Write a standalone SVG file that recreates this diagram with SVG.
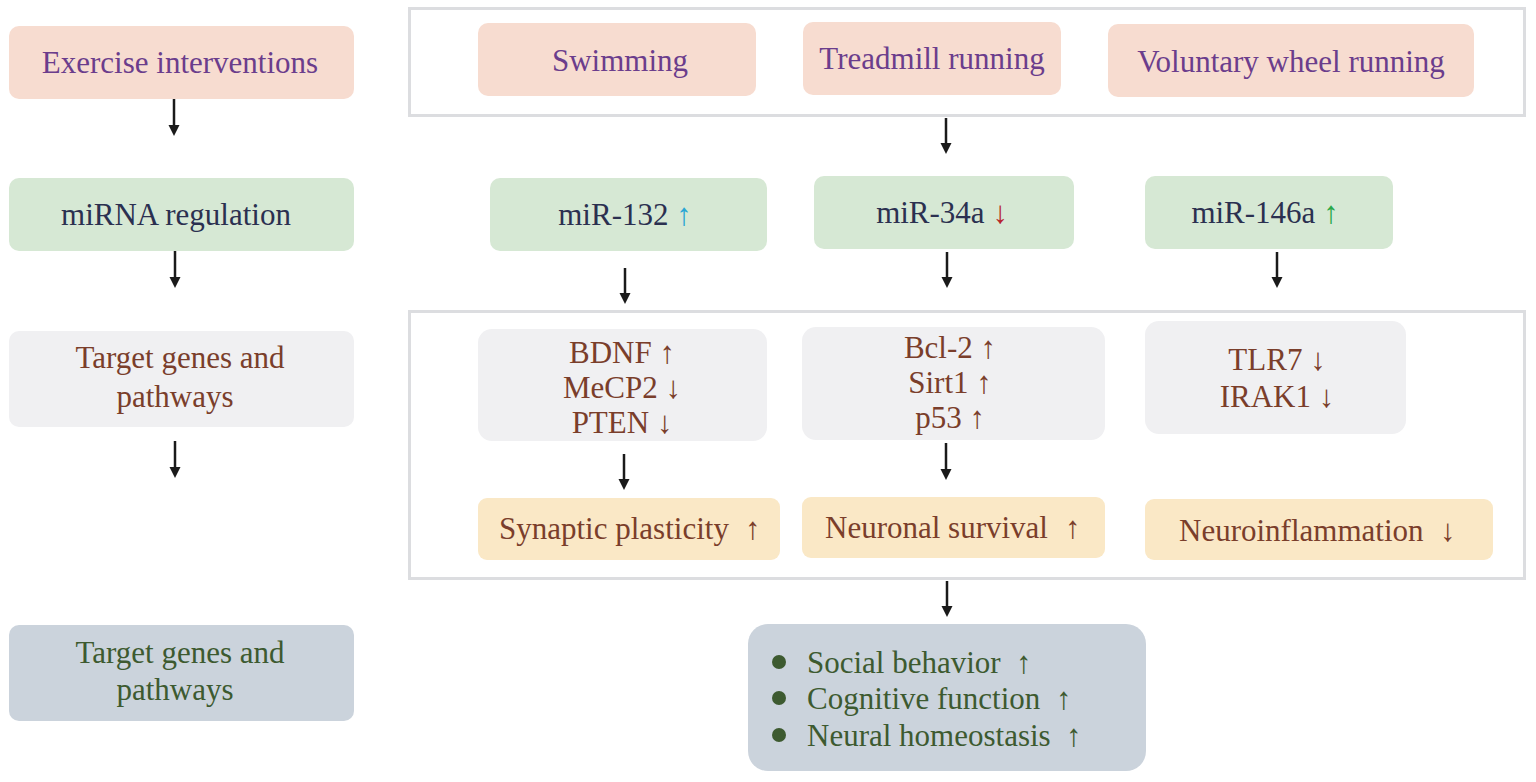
<svg xmlns="http://www.w3.org/2000/svg" width="1536" height="782" viewBox="0 0 1536 782">
<defs>
<style>
text{font-family:"Liberation Serif","Times New Roman",serif;font-size:31px;text-anchor:middle}
.peach{fill:#f7dcd0}
.green{fill:#d6e8d4}
.gray{fill:#f0f0f2}
.yellow{fill:#fae8c6}
.blue{fill:#cbd3dc}
.frame{fill:none;stroke:#dcdde0;stroke-width:3}
.tp{fill:#6b3d8c}
.tn{fill:#2b3050}
.tb{fill:#7a3e2b}
.tg{fill:#3d5a30}
.conn line{stroke:#1a1a1a;stroke-width:2.5}
.conn path{fill:#1a1a1a}
</style>
</defs>
<rect width="1536" height="782" fill="#ffffff"/>
<rect class="frame" x="409.5" y="8.5" width="1115" height="107"/>
<rect class="frame" x="409.5" y="311.5" width="1115" height="267"/>

<g id="exercise-interventions"><rect class="peach" x="9" y="26" width="345" height="73" rx="10"/><text class="tp" x="180" y="73">Exercise interventions</text></g>
<g id="mirna-regulation"><rect class="green" x="9" y="178" width="345" height="73" rx="10"/><text class="tn" x="176" y="225">miRNA regulation</text></g>
<g id="target-genes-left"><rect class="gray" x="9" y="331" width="345" height="96" rx="10"/><text class="tb" x="180" y="368">Target genes and</text><text class="tb" x="175" y="407">pathways</text></g>
<g id="target-genes-bottom"><rect class="blue" x="9" y="625" width="345" height="96" rx="10"/><text class="tg" x="180" y="663">Target genes and</text><text class="tg" x="175" y="700">pathways</text></g>

<g id="swimming"><rect class="peach" x="478" y="23" width="278" height="73" rx="10"/><text class="tp" x="620" y="71">Swimming</text></g>
<g id="treadmill"><rect class="peach" x="803" y="22" width="258" height="73" rx="10"/><text class="tp" x="932" y="69">Treadmill running</text></g>
<g id="voluntary"><rect class="peach" x="1108" y="24" width="366" height="73" rx="10"/><text class="tp" x="1291" y="72">Voluntary wheel running</text></g>

<g id="mir132"><rect class="green" x="490" y="178" width="277" height="73" rx="10"/><text class="tn" x="625" y="225">miR-132 <tspan fill="#2aa6d4">↑</tspan></text></g>
<g id="mir34a"><rect class="green" x="814" y="176" width="260" height="73" rx="10"/><text class="tn" x="942" y="223">miR-34a <tspan fill="#b8262e">↓</tspan></text></g>
<g id="mir146a"><rect class="green" x="1145" y="176" width="248" height="73" rx="10"/><text class="tn" x="1265" y="223">miR-146a <tspan fill="#2aa84a">↑</tspan></text></g>

<g id="genes132"><rect class="gray" x="478" y="329" width="289" height="112" rx="14"/><text class="tb" x="622" y="363">BDNF ↑</text><text class="tb" x="622" y="398">MeCP2 ↓</text><text class="tb" x="622" y="433">PTEN ↓</text></g>
<g id="genes34a"><rect class="gray" x="802" y="327" width="303" height="113" rx="14"/><text class="tb" x="950" y="358">Bcl-2 ↑</text><text class="tb" x="950" y="393">Sirt1 ↑</text><text class="tb" x="950" y="428">p53 ↑</text></g>
<g id="genes146a"><rect class="gray" x="1145" y="321" width="261" height="113" rx="14"/><text class="tb" x="1277" y="370">TLR7 ↓</text><text class="tb" x="1277" y="407">IRAK1 ↓</text></g>

<g id="synaptic"><rect class="yellow" x="478" y="498" width="302" height="62" rx="9"/><text class="tb" style="text-anchor:start" x="499" y="539">Synaptic plasticity<tspan x="745">↑</tspan></text></g>
<g id="neuronal"><rect class="yellow" x="802" y="497" width="303" height="61" rx="9"/><text class="tb" style="text-anchor:start" x="825" y="538">Neuronal survival<tspan x="1065">↑</tspan></text></g>
<g id="neuroinflammation"><rect class="yellow" x="1145" y="499" width="348" height="61" rx="9"/><text class="tb" style="text-anchor:start" x="1179" y="541">Neuroinflammation<tspan x="1440">↓</tspan></text></g>

<g id="outcomes"><rect class="blue" x="748" y="624" width="398" height="147" rx="20"/>
<circle cx="779" cy="662" r="7" fill="#3d5a30"/><circle cx="779" cy="698" r="7" fill="#3d5a30"/><circle cx="779" cy="735" r="7" fill="#3d5a30"/>
<text class="tg" style="text-anchor:start" x="807" y="673">Social behavior<tspan x="1016">↑</tspan></text>
<text class="tg" style="text-anchor:start" x="807" y="709">Cognitive function<tspan x="1056">↑</tspan></text>
<text class="tg" style="text-anchor:start" x="807" y="746">Neural homeostasis<tspan x="1066">↑</tspan></text>
</g>

<g id="connectors" class="conn">
<line x1="174" y1="99" x2="174" y2="126"/><path d="M168.5,125 L179.5,125 L174,136 Z"/>
<line x1="175" y1="251" x2="175" y2="278"/><path d="M169.5,277 L180.5,277 L175,288 Z"/>
<line x1="175" y1="441" x2="175" y2="468"/><path d="M169.5,467 L180.5,467 L175,478 Z"/>
<line x1="946" y1="118" x2="946" y2="144"/><path d="M940.5,143 L951.5,143 L946,154 Z"/>
<line x1="625" y1="268" x2="625" y2="294"/><path d="M619.5,293 L630.5,293 L625,304 Z"/>
<line x1="947" y1="252" x2="947" y2="278"/><path d="M941.5,277 L952.5,277 L947,288 Z"/>
<line x1="1277" y1="252" x2="1277" y2="278"/><path d="M1271.5,277 L1282.5,277 L1277,288 Z"/>
<line x1="624" y1="454" x2="624" y2="480"/><path d="M618.5,479 L629.5,479 L624,490 Z"/>
<line x1="946" y1="443" x2="946" y2="470"/><path d="M940.5,469 L951.5,469 L946,480 Z"/>
<line x1="947" y1="581" x2="947" y2="607"/><path d="M941.5,606 L952.5,606 L947,617 Z"/>
</g>
</svg>
